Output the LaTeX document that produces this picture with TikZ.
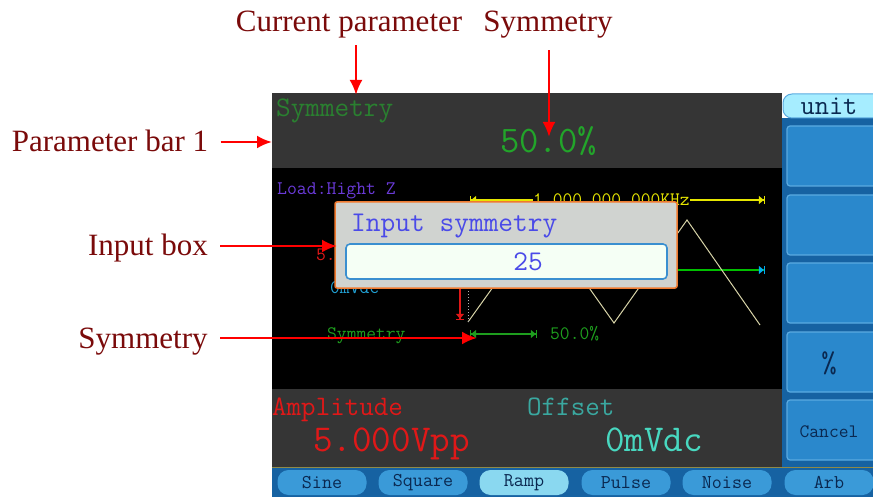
\documentclass[tikz,border=0pt]{standalone}
\usepackage{fontspec}
\setmainfont{Liberation Serif}
\usetikzlibrary{arrows.meta}
\def\lcdsize#1{\fontsize{#1}{#1}\ttfamily}

\definecolor{notered}{HTML}{7A0A0A}
\definecolor{bargray}{HTML}{353535}
\definecolor{lblgreen}{HTML}{2A8030}
\definecolor{valgreen}{HTML}{22A52A}
\definecolor{dimgreen}{HTML}{1E9E1E}
\definecolor{loadviolet}{HTML}{6A3AD8}
\definecolor{freqyellow}{HTML}{E6E600}
\definecolor{wavecol}{HTML}{D8D4A8}
\definecolor{boxgray}{HTML}{D0D3D0}
\definecolor{boxorange}{HTML}{F07A30}
\definecolor{fieldblue}{HTML}{3A8FD0}
\definecolor{inblue}{HTML}{4A4AE8}
\definecolor{amplred}{HTML}{E01818}
\definecolor{offteal}{HTML}{3AA8A0}
\definecolor{offcyan}{HTML}{48D8C0}
\definecolor{panelblue}{HTML}{1662A2}
\definecolor{btnblue}{HTML}{2A88CC}
\definecolor{btnedge}{HTML}{5AAAE0}
\definecolor{tabblue}{HTML}{3A9AD8}
\definecolor{tablight}{HTML}{8AD8F0}
\definecolor{tabtext}{HTML}{0A2850}

\tikzset{
  note/.style={text=notered, font=\fontsize{31}{31}\selectfont},
  pointer/.style={draw=red, line width=2.6pt, -{Latex[length=15pt,width=13pt]}},
  scr/.style={inner sep=0pt, anchor=base west},
  dimline/.style={line width=1.2pt, {Bar[width=8pt]Triangle[length=5pt,width=8pt]}-{Triangle[length=5pt,width=8pt]Bar[width=8pt]}},
  tab/.style={fill=tabblue, rounded corners=11pt, minimum width=89pt, minimum height=25pt, inner sep=0pt, text=tabtext, font=\lcdsize{19.5}},
  btn/.style={fill=btnblue, draw=btnedge, line width=1.2pt, rounded corners=3pt}
}

\begin{document}
\begin{tikzpicture}[x=1pt, y=-1pt]
		%%%%% START %%%%%
		\useasboundingbox (0,0) rectangle (873,497);
		\clip (0,0) rectangle (873,497);
		
		% screen
		\fill[bargray] (272,93) rectangle (782,168);
		\fill[black] (272,168) rectangle (782,389);
		\fill[bargray] (272,389) rectangle (782,467);
		\fill[panelblue] (782,118) rectangle (873,467);
		\fill[panelblue] (272,467) rectangle (873,497);
		
		\node[scr, text=lblgreen, font=\lcdsize{28.4}] (symlbl) at (276,117) {Symmetry};
		\node[scr, text=valgreen, font=\lcdsize{37.5}] (symval) at (500,153) {50.0\%};
		
		% waveform area
		\node[scr, text=loadviolet, font=\lcdsize{19.2}] (load) at (277,195) {Load:Hight Z};
		\draw[dimline, freqyellow] (470,200) -- (765,200);
		\node[scr, text=freqyellow, fill=black, font=\lcdsize{19}] (freq) at (533,206) {1.000.000.000KHz};
		\draw[dimline, green!75!black, {Bar[width=8pt,cyan]Triangle[length=5pt,width=8pt,cyan]}-{Triangle[length=5pt,width=8pt,cyan]Bar[width=8pt,cyan]}] (470,270) -- (765,270);
		\draw[line width=1.2pt, amplred, -{Triangle[length=5pt,width=8pt]Bar[width=8pt]}] (460,222) -- (460,320);
		\node[scr, text=amplred, font=\lcdsize{19}] (amplsmall) at (316,261) {5.000Vpp};
		\node[scr, text=cyan!70!teal, font=\lcdsize{19}] (offsmall) at (330,293) {0mVdc};
		\draw[wavecol, line width=1pt] (468,322) -- (541,220) -- (614,323) -- (687,220) -- (760,325);
		\draw[gray!60, dotted, line width=1pt] (468,288) -- (468,322);
		\draw[dimline, dimgreen] (470,334) -- (537,334);
		\node[scr, text=dimgreen, font=\lcdsize{19}] (symsmall) at (327,339) {Symmetry};
		\node[scr, text=dimgreen, font=\lcdsize{19}] (symdim) at (550,339) {50.0\%};
		
		% input box
		\draw[fill=boxgray, draw=boxorange, line width=1.5pt, rounded corners=2pt] (335,202) rectangle (677,288);
		\node[scr, text=inblue, font=\lcdsize{28.6}] (inlbl) at (351,232) {Input symmetry};
		\draw[fill=white!90!green!40!white, draw=fieldblue, line width=1.6pt, rounded corners=4pt] (346,244) rectangle (667,279);
		\node[inner sep=0pt, anchor=base, text=inblue, font=\lcdsize{28.6}] (inval) at (528,270) {25};
		
		% parameter bar 2
		\node[scr, text=amplred, font=\lcdsize{28.2}] (ampl) at (272,415) {Amplitude};
		\node[scr, text=amplred, font=\lcdsize{38}] (amplval) at (313,451) {5.000Vpp};
		\node[scr, text=offteal, font=\lcdsize{28.2}] (offs) at (527,415) {Offset};
		\node[scr, text=offcyan, font=\lcdsize{38}] (offsval) at (605,451) {0mVdc};
		
		% tabs
		\draw[olive!50!gray, line width=1pt] (272,467) -- (873,467);
		\foreach \cx/\lab in {322/Sine, 423/Square, 626/Pulse, 727/Noise, 829/Arb}
			\node[tab] (tab-\lab) at (\cx,482.5) {\lab};
		\node[tab, fill=tablight] (tab-Ramp) at (524,482.5) {Ramp};
		
		% soft keys
		\draw[fill=blue!20!cyan!35!white, draw=btnedge, line width=1pt, rounded corners=9pt] (783,94) rectangle (890,118);
		\node[inner sep=0pt, anchor=base, text=tabtext, font=\lcdsize{27.6}] (unit) at (829,115) {unit};
		\foreach \yb in {126,195,263,332,400}
			\draw[btn] (787,\yb) rectangle (885,\yb+60);
		\node[inner sep=0pt, text=tabtext, font=\lcdsize{30}] (pct) at (829,363) {\%};
		\node[inner sep=0pt, text=tabtext, font=\lcdsize{19}] (cancel) at (829,432) {Cancel};
		
		% notes
		\node[note, anchor=base] (curpar) at (349,32) {Current parameter};
		\node[note, anchor=base] (symtop) at (548,32) {Symmetry};
		\node[note, anchor=base] (parbar) at (110,152) {Parameter bar 1};
		\node[note, anchor=base] (inbox) at (148,256) {Input box};
		\node[note, anchor=base] (symlow) at (143,348) {Symmetry};
		
		\coordinate (curtip) at (356,95);
		\coordinate (symtip) at (549,137);
		\coordinate (bartip) at (272,142);
		\coordinate (boxtip) at (337,246);
		\coordinate (dimtip) at (477,338);
		
		\draw[pointer, shorten <=3pt] (curpar.south -| curtip) -- (curtip);
		\draw[pointer, shorten <=8pt] (symtop.south -| symtip) -- (symtip);
		\draw[pointer, shorten <=9pt] (parbar.east |- bartip) -- (bartip);
		\draw[pointer, shorten <=9pt] (inbox.east |- boxtip) -- (boxtip);
		\draw[pointer, shorten <=9pt] (symlow.east |- dimtip) -- (dimtip);
		
		%%%%% END %%%%%
\end{tikzpicture}
\end{document}
